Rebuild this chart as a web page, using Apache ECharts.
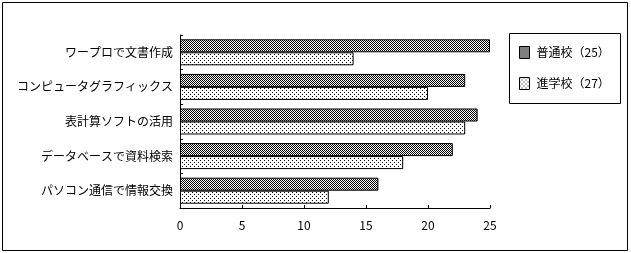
<!DOCTYPE html>
<html><head><meta charset="utf-8">
<script src="https://cdn.jsdelivr.net/npm/echarts@6/dist/echarts.min.js"></script>
<style>html,body{margin:0;padding:0;background:#fff}#c{width:631px;height:253px}</style>
</head><body><div id="c"></div>
<script>
const categories = ['ワープロで文書作成','コンピュータグラフィックス','表計算ソフトの活用','データベースで資料検索','パソコン通信で情報交換'];
const seriesNames = ['普通校（25）','進学校（27）'];
const futsuValues = [25, 23, 24, 22, 16];
const shingakuValues = [14, 20, 23, 18, 12];
const xTicks = [0, 5, 10, 15, 20, 25];

function makePattern(kind){
  const c = document.createElement('canvas');
  const ctx = c.getContext('2d');
  if(kind==='dark'){
    c.width=2;c.height=2;
    ctx.fillStyle='#ffffff';ctx.fillRect(0,0,2,2);
    ctx.fillStyle='#000000';ctx.fillRect(0,0,1,1);ctx.fillRect(1,1,1,1);
  } else {
    c.width=4;c.height=4;
    ctx.fillStyle='#ffffff';ctx.fillRect(0,0,4,4);
    ctx.fillStyle='#000000';ctx.fillRect(0,0,1,1);ctx.fillRect(2,2,1,1);
  }
  return {image:c, repeat:'repeat'};
}
const darkPat = makePattern('dark');
const lightPat = makePattern('light');
const font = '"Noto Sans CJK JP", sans-serif';

const chart = echarts.init(document.getElementById('c'), null, {renderer:'canvas'});
chart.setOption({
  animation:false,
  backgroundColor:'#ffffff',
  textStyle:{fontFamily:font, color:'#000'},
  graphic:[
    {type:'rect', shape:{x:2.5,y:2.5,width:625,height:248}, style:{fill:'none',stroke:'#000',lineWidth:1}, silent:true, z:-1},
    {type:'rect', shape:{x:509.5,y:33.5,width:111,height:70}, style:{fill:'#fff',stroke:'#000',lineWidth:1}, silent:true, z:-1}
  ],
  legend:{
    orient:'vertical', left:514, top:41,
    itemWidth:10, itemHeight:12, itemGap:18,
    icon:'rect',
    textStyle:{fontFamily:font, fontSize:12, color:'#000', padding:[0,0,0,2]},
    itemStyle:{borderColor:'#000', borderWidth:1},
    data:seriesNames
  },
  grid:{left:180, right:141, top:35, bottom:45, containLabel:false},
  xAxis:{
    type:'value', min:0, max:25, interval:5,
    axisLine:{show:true, lineStyle:{color:'#000',width:1}},
    axisTick:{show:true, inside:true, length:3, lineStyle:{color:'#000'}},
    axisLabel:{fontFamily:font, fontSize:12, color:'#000', margin:11,
      formatter:function(v){return xTicks.indexOf(v)>=0 ? String(v) : '';}},
    splitLine:{show:false}
  },
  yAxis:{
    type:'category', data:categories, inverse:true,
    axisLine:{show:true, lineStyle:{color:'#000',width:1}},
    axisTick:{show:true, inside:true, length:3, lineStyle:{color:'#000'}},
    axisLabel:{fontFamily:font, fontSize:12, color:'#000', margin:7}
  },
  series:[
    {name:seriesNames[0], type:'bar', data:futsuValues, barWidth:13, barGap:'0%',
     itemStyle:{color:darkPat, borderColor:'#000', borderWidth:1}},
    {name:seriesNames[1], type:'bar', data:shingakuValues, barWidth:13, barGap:'0%',
     itemStyle:{color:lightPat, borderColor:'#000', borderWidth:1}}
  ]
});
</script></body></html>
